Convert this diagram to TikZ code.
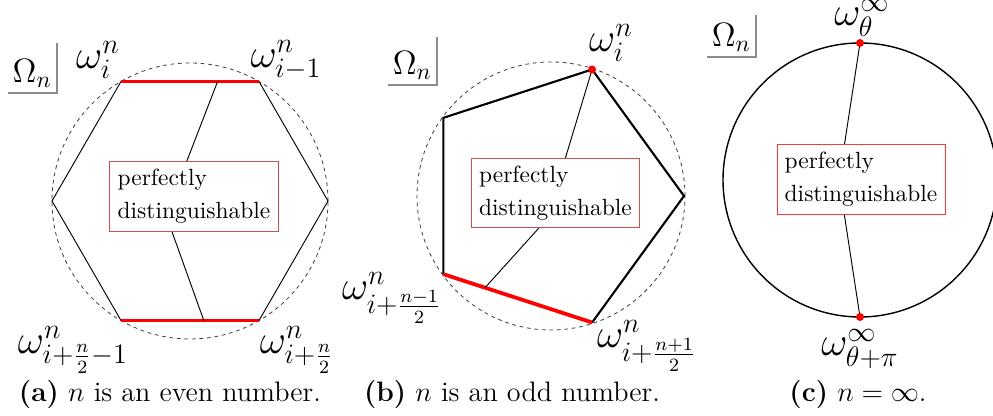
\documentclass[tikz,border=0pt]{standalone}
\usepackage{amsmath,amssymb}
\usetikzlibrary{calc}
\definecolor{boxred}{RGB}{200,80,80}
\definecolor{brightred}{RGB}{245,60,60}
\colorlet{ringgrey}{black!75}
\colorlet{omgrey}{black!45}

\begin{document}
\begin{tikzpicture}[x=0.015cm,y=0.015cm,
    lbl/.style={font=\fontsize{16.5}{20}\selectfont},
    omlab/.style={font=\Large,anchor=south east,inner sep=2pt},
    omline/.style={omgrey,line width=0.5pt},
    ring/.style={ringgrey,line width=0.35pt,dash pattern=on 1.6pt off 1.6pt},
    fine/.style={line width=0.4pt},
    redge/.style={red,line width=1.6pt},
    bedge/.style={black,line width=0.9pt},
    pdbox/.style={draw=boxred,fill=white,align=left,font=\normalsize,inner sep=3.3pt},
    reddot/.style={circle,fill=red,inner sep=0pt,minimum size=0.12cm},
    capt/.style={font=\large}]
  \useasboundingbox (0,0) rectangle (993,416);

  % (a) n even: hexagon
  \coordinate (ca) at (190,215);
  \draw[ring] (ca) circle (138);
  \foreach \k in {0,...,5}
    \coordinate (a\k) at ($(ca)+(\k*60:138)$);
  \draw[fine] (a0) -- (a1) (a2) -- (a3) -- (a4) (a5) -- (a0);
  \draw[redge] (a1) -- (a2) (a4) -- (a5);
  \coordinate (ta) at ($(a2)!0.7!(a1)$);
  \coordinate (ma) at (166,201);
  \coordinate (ba) at ($(a4)!0.6!(a5)$);
  \draw[fine] (ta) -- (ma) -- (ba);
  \node[pdbox] (pda) at (194,219.5) {perfectly\\[2pt]distinguishable};
  \node[lbl] (wa1) at (98,356) {$\omega_i^n$};
  \node[lbl] (wa2) at (286,356) {$\omega_{i-1}^n$};
  \node[lbl] (wa3) at (73,66) {$\omega_{i+\frac{n}{2}-1}^n$};
  \node[lbl] (wa4) at (297,66) {$\omega_{i+\frac{n}{2}}^n$};
  \node[omlab] (oma) at (57,323) {$\Omega_n$};
  \draw[omline] (oma.south west) -- (oma.south east) -- ++(0,50);
  \node[capt] (capa) at (170,22) {\textbf{(a)} $n$ is an even number.};

  % (b) n odd: pentagon
  \coordinate (cb) at (551,220);
  \draw[ring] (cb) circle (134);
  \foreach \k in {0,...,4}
    \coordinate (b\k) at ($(cb)+(\k*72:133)$);
  \draw[bedge] (b4) -- (b0) -- (b1) -- (b2) -- (b3);
  \draw[redge] (b3) -- (b4);
  \coordinate (mb) at (547,197);
  \coordinate (bb) at ($(b3)!0.28!(b4)$);
  \draw[fine] (b1) -- (mb) -- (bb);
  \node[pdbox] (pdb) at (555.5,223) {perfectly\\[2pt]distinguishable};
  \node[reddot] (db) at (b1) {};
  \node[lbl] (wb1) at (611,373) {$\omega_i^n$};
  \node[lbl] (wb2) at (392,118) {$\omega_{i+\frac{n-1}{2}}^n$};
  \node[lbl] (wb3) at (647,70) {$\omega_{i+\frac{n+1}{2}}^n$};
  \node[omlab] (omb) at (437,331) {$\Omega_n$};
  \draw[omline] (omb.south west) -- (omb.south east) -- ++(0,48);
  \node[capt] (capb) at (512,22) {\textbf{(b)} $n$ is an odd number.};

  % (c) n infinite: circle
  \coordinate (cc) at (860,236);
  \draw[line width=0.6pt] (cc) circle (137);
  \coordinate (tc) at ($(cc)+(90:137)$);
  \coordinate (mc) at (839,236);
  \coordinate (bc) at ($(cc)+(270:137)$);
  \draw[fine] (tc) -- (mc) -- (bc);
  \node[pdbox,draw=brightred] (pdc) at (861,236.5) {perfectly\\[2pt]distinguishable};
  \node[reddot] (dct) at (tc) {};
  \node[reddot] (dcb) at (bc) {};
  \node[lbl] (wc1) at (862,398) {$\omega_\theta^\infty$};
  \node[lbl] (wc2) at (860,67) {$\omega_{\theta+\pi}^\infty$};
  \node[omlab] (omc) at (756,359) {$\Omega_n$};
  \draw[omline] (omc.south west) -- (omc.south east) -- ++(0,42);
  \node[capt] (capc) at (858,22) {\textbf{(c)} $n=\infty$.};
\end{tikzpicture}
\end{document}
